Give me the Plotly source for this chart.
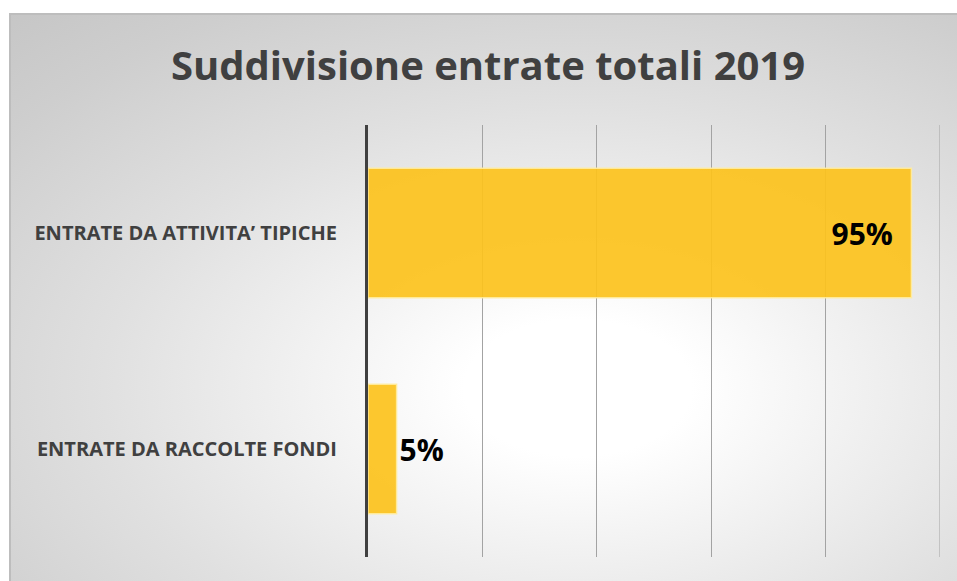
import base64
import plotly.graph_objects as go

categories = ["ENTRATE DA RACCOLTE FONDI", "ENTRATE DA ATTIVITA’ TIPICHE"]
values = [0.05, 0.95]
title_text = "Suddivisione entrate totali 2019"

W, H = 957, 581
L, T = 368, 125
R, B = W - 940, H - 557
pw, ph = W - L - R, H - T - B

FX, FY = 9, 13  # frame top-left
FW, FH = W - FX, H - FY

svg = f'''<svg xmlns="http://www.w3.org/2000/svg" width="{FW}" height="{FH}" viewBox="0 0 {FW} {FH}" preserveAspectRatio="none">
<defs><radialGradient id="g" cx="0.6" cy="0.66" r="1" fx="0.6" fy="0.66">
<stop offset="0" stop-color="#ffffff"/>
<stop offset="0.12" stop-color="#ffffff"/>
<stop offset="0.5" stop-color="#e0e0e0"/>
<stop offset="0.75" stop-color="#cecece"/>
<stop offset="1" stop-color="#c0c0c0"/>
</radialGradient></defs>
<rect x="0" y="0" width="{FW}" height="{FH}" fill="url(#g)"/>
<path d="M1 {FH} L1 1 L{FW} 1" fill="none" stroke="#bdbdbd" stroke-width="2"/>
</svg>'''
src = "data:image/svg+xml;base64," + base64.b64encode(svg.encode()).decode()

fig = go.Figure(go.Bar(
    y=categories, x=values, orientation="h",
    marker=dict(color="rgba(252,194,28,0.92)", line=dict(color="rgba(255,236,160,0.9)", width=1.5)),
    texttemplate=["%{x:.0%}", "%{x:.0%}\u00a0\u00a0"], textposition="auto",
    textfont=dict(family="Open Sans", size=30, color="#000000", weight="bold"),
    insidetextanchor="end", cliponaxis=False,
))

fig.add_layout_image(dict(
    source=src, xref="paper", yref="paper",
    x=(FX - L) / pw, y=1 + (T - FY) / ph,
    sizex=FW / pw, sizey=FH / ph,
    xanchor="left", yanchor="top", sizing="stretch", layer="below",
))

# gridline at the right end of the range (not drawn by plotly at the edge)
fig.add_shape(type="line", xref="x", yref="paper", x0=1, x1=1, y0=0, y1=1,
              line=dict(color="#a3a3a3", width=1), layer="below")

fig.update_layout(
    width=W, height=H,
    margin=dict(l=L, r=R, t=T, b=B),
    paper_bgcolor="white", plot_bgcolor="rgba(0,0,0,0)",
    showlegend=False, bargap=0.4,
    title=dict(text=title_text, x=488 / W, xref="container", xanchor="center",
               y=1 - 66 / H, yref="container", yanchor="middle",
               font=dict(family="Open Sans", size=40, color="#404040", weight="bold")),
    xaxis=dict(range=[0, 1], dtick=0.2, showticklabels=False, showgrid=True,
               gridcolor="#a3a3a3", gridwidth=1, zeroline=False, showline=False, fixedrange=True),
    yaxis=dict(showline=True, linecolor="#404040", linewidth=3, ticks="",
               ticklabelstandoff=24,
               tickfont=dict(family="Open Sans", size=20, color="#404040", weight="bold"),
               showgrid=False),
)

fig.write_html("out.html", config={"displayModeBar": False},
               post_script="document.body.style.margin='0';document.body.style.overflow='hidden';")
